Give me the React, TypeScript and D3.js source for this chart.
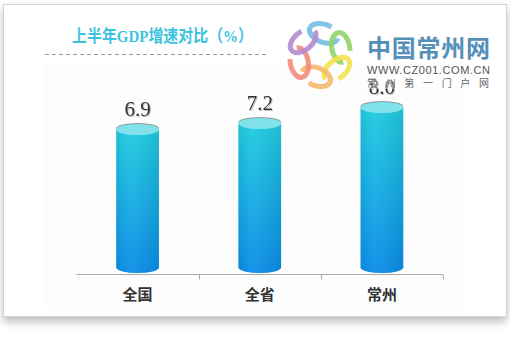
import React, { useRef, useEffect } from 'react'
import * as d3 from 'd3'

const categories = ['全国', '全省', '常州']
const values = [6.9, 7.2, 8.0]
const title = '上半年GDP增速对比（%）'
const petalColors = ['#74bde6', '#93d46c', '#f3e24e', '#f6b86e', '#f28c7c', '#b58ad2']

export default function App() {
  const ref = useRef<SVGSVGElement>(null)
  const w = 510
  const h = 364

  useEffect(() => {
    const svg = d3.select(ref.current)
    svg.selectAll('*').remove()

    const defs = svg.append('defs')
    const shadow = defs.append('filter').attr('id', 'cardShadow')
      .attr('x', '-5%').attr('y', '-5%').attr('width', '110%').attr('height', '115%')
    shadow.append('feDropShadow').attr('dx', 0).attr('dy', 5).attr('stdDeviation', 4)
      .attr('flood-color', '#000').attr('flood-opacity', 0.25)

    const grad = defs.append('linearGradient').attr('id', 'barGrad')
      .attr('x1', 0).attr('y1', 0).attr('x2', 0).attr('y2', 1)
    grad.append('stop').attr('offset', '0%').attr('stop-color', '#20cce0')
    grad.append('stop').attr('offset', '100%').attr('stop-color', '#0a8de8')

    const side = defs.append('linearGradient').attr('id', 'sideGrad')
      .attr('x1', 0).attr('y1', 0).attr('x2', 1).attr('y2', 0)
    side.append('stop').attr('offset', '0%').attr('stop-color', '#000').attr('stop-opacity', 0.06)
    side.append('stop').attr('offset', '30%').attr('stop-color', '#fff').attr('stop-opacity', 0.05)
    side.append('stop').attr('offset', '100%').attr('stop-color', '#000').attr('stop-opacity', 0.08)

    const txtShadow = defs.append('filter').attr('id', 'txtShadow')
    txtShadow.append('feDropShadow').attr('dx', 1).attr('dy', 1).attr('stdDeviation', 0.6)
      .attr('flood-color', '#000').attr('flood-opacity', 0.25)

    // card
    svg.append('rect')
      .attr('x', 3.5).attr('y', 4.5).attr('width', 503).attr('height', 312)
      .attr('fill', '#fff').attr('stroke', '#d4d4d4')
      .attr('filter', 'url(#cardShadow)')
    svg.append('rect')
      .attr('x', 44).attr('y', 62).attr('width', 420).attr('height', 246)
      .attr('fill', '#fdfdfd')

    // title
    svg.append('text')
      .attr('x', 72).attr('y', 42)
      .attr('textLength', 181).attr('lengthAdjust', 'spacingAndGlyphs')
      .style('font-family', '"Liberation Serif", "Noto Sans CJK SC", serif')
      .style('font-weight', 'bold')
      .style('font-size', '17px')
      .attr('fill', '#3ec3df')
      .text(title)
    svg.append('line')
      .attr('x1', 45).attr('x2', 268).attr('y1', 54.5).attr('y2', 54.5)
      .attr('stroke', '#9a9a9a').attr('stroke-dasharray', '4,3')

    const x = d3.scaleBand().domain(categories).range([76.5, 443]).padding(0)
    const y = d3.scaleLinear().domain([0, 10]).range([267.5, 67.5])
    const bw = x.bandwidth() * 0.35
    const ry = 5.5

    // axis
    const axis = svg.append('g')
    axis.append('line')
      .attr('x1', x.range()[0]).attr('x2', x.range()[1])
      .attr('y1', 274.5).attr('y2', 274.5)
      .attr('stroke', '#aaa')
    const tickX = categories.slice(1).map(c => x(c) as number).concat([x.range()[1]])
    axis.selectAll('line.tick').data(tickX).enter().append('line')
      .attr('class', 'tick')
      .attr('x1', d => Math.round(d) + 0.5).attr('x2', d => Math.round(d) + 0.5)
      .attr('y1', 274.5).attr('y2', 279.5)
      .attr('stroke', '#aaa')

    const bars = svg.selectAll('g.bar')
      .data(categories.map((c, i) => ({ c, v: values[i] })))
      .enter().append('g').attr('class', 'bar')
      .attr('transform', d => `translate(${(x(d.c) as number) + x.bandwidth() / 2},0)`)

    const body = (d: { v: number }) => {
      const t = y(d.v), b = y(0)
      return `M${-bw / 2},${t} L${-bw / 2},${b} A${bw / 2},${ry} 0 0 0 ${bw / 2},${b} L${bw / 2},${t} Z`
    }
    bars.append('path').attr('d', body).attr('fill', 'url(#barGrad)')
    bars.append('path').attr('d', body).attr('fill', 'url(#sideGrad)')
    // top rim shadow and cap
    bars.append('ellipse')
      .attr('cx', 0).attr('cy', d => y(d.v) - 1).attr('rx', bw / 2).attr('ry', ry)
      .attr('fill', '#8a9a9e')
    bars.append('ellipse')
      .attr('cx', 0).attr('cy', d => y(d.v)).attr('rx', bw / 2).attr('ry', ry)
      .attr('fill', '#82e2ec')

    bars.append('text')
      .attr('x', 0).attr('y', d => y(d.v) - ry - 8)
      .attr('text-anchor', 'middle')
      .style('font-family', '"Liberation Serif", serif')
      .style('font-size', '21px')
      .attr('fill', '#333')
      .attr('filter', 'url(#txtShadow)')
      .text(d => d.v.toFixed(1))

    bars.append('text')
      .attr('x', 0).attr('y', 299.5)
      .attr('text-anchor', 'middle')
      .style('font-family', '"Noto Sans CJK SC", sans-serif')
      .style('font-weight', 'bold')
      .style('font-size', '15px')
      .attr('fill', '#333')
      .text(d => d.c)

    // watermark
    const wm = svg.append('g')
    const cx = 320, cy = 55
    petalColors.forEach((col, i) => {
      const a = -80 + i * 60
      const rad = (a * Math.PI) / 180
      const px = cx + Math.cos(rad) * 22
      const py = cy + Math.sin(rad) * 22
      wm.append('ellipse')
        .attr('cx', px).attr('cy', py).attr('rx', 15).attr('ry', 9)
        .attr('transform', `rotate(${a + 100},${px},${py})`)
        .attr('fill', 'none').attr('stroke', col).attr('stroke-width', 5)
        .attr('stroke-dasharray', '62,20')
        .attr('opacity', 0.9)
    })
    wm.append('text')
      .attr('x', 367).attr('y', 57).attr('textLength', 123)
      .style('font-family', '"Noto Sans CJK SC", sans-serif')
      .style('font-weight', 'bold').style('font-size', '24px')
      .attr('fill', '#5590b9')
      .text('中国常州网')
    wm.append('text')
      .attr('x', 367).attr('y', 74).attr('textLength', 123)
      .style('font-family', '"Liberation Sans", sans-serif')
      .style('font-size', '11px')
      .attr('fill', '#555')
      .text('WWW.CZ001.COM.CN')
    wm.append('rect')
      .attr('x', 366).attr('y', 77).attr('width', 126).attr('height', 12)
      .attr('fill', '#fff').attr('opacity', 0.4)
    wm.append('text')
      .attr('x', 367).attr('y', 87).attr('textLength', 122)
      .style('font-family', '"Noto Sans CJK SC", sans-serif')
      .style('font-size', '10px')
      .attr('fill', '#666')
      .text('常州第一门户网')
  }, [])

  return (
    <svg ref={ref} width={w} height={h}
      style={{ position: 'absolute', left: 0, top: 0, background: '#fff' }} />
  )
}
